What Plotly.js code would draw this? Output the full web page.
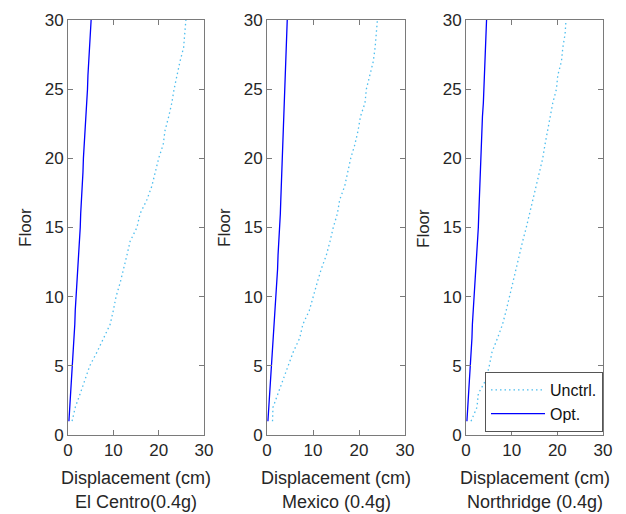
<!DOCTYPE html>
<html>
<head>
<meta charset="utf-8">
<script src="https://cdn.plot.ly/plotly-3.0.1.min.js"></script>
<style>html,body{margin:0;padding:0;background:#fff;}#chart{width:626px;height:514px;}</style>
</head>
<body>
<div id="chart"></div>
<script>
const floors = [1,2,3,4,5,6,7,8,9,10,11,12,13,14,15,16,17,18,19,20,21,22,23,24,25,26,27,28,29,30];

const elCentroUnctrl = [0.9,1.6,2.7,3.8,4.8,6.4,7.8,9.3,10.0,10.6,11.5,12.3,13.0,13.7,15.2,15.9,17.4,18.5,19.2,20.0,21.0,21.4,22.2,22.9,23.4,24.0,24.7,25.5,25.8,26.0];
const elCentroOpt    = [0.2,0.4,0.6,0.7,0.9,1.1,1.3,1.5,1.6,1.8,2.0,2.2,2.4,2.5,2.7,2.8,3.0,3.1,3.3,3.4,3.6,3.8,3.9,4.1,4.3,4.4,4.6,4.8,4.9,5.1];

const mexicoUnctrl = [1.2,1.3,2.4,3.5,4.7,5.7,7.1,7.8,9.2,10.0,10.9,11.8,12.9,13.7,14.4,15.3,15.8,16.9,17.6,18.2,19.1,19.8,20.3,21.3,21.6,22.4,23.1,23.5,23.8,24.0];
const mexicoOpt    = [0.2,0.4,0.5,0.7,0.9,1.1,1.3,1.5,1.7,1.9,2.1,2.3,2.4,2.6,2.8,2.9,3.0,3.1,3.2,3.3,3.4,3.5,3.6,3.7,3.8,3.9,4.0,4.1,4.3,4.4];

const northUnctrl = [1.1,2.4,2.7,4.4,5.1,5.7,6.9,8.0,8.8,9.5,10.2,11.0,11.7,12.4,13.2,13.9,14.6,15.4,16.1,16.8,17.3,17.9,18.5,19.0,19.8,20.1,20.9,21.2,21.7,21.9];
const northOpt    = [0.2,0.4,0.5,0.7,0.9,1.1,1.3,1.4,1.6,1.8,2.0,2.2,2.4,2.5,2.7,2.8,2.9,3.0,3.2,3.3,3.4,3.5,3.6,3.8,3.9,4.0,4.1,4.2,4.4,4.5];

const xTicks = [0,10,20,30];
const yTicks = [0,5,10,15,20,25,30];
const seriesNames = ['Unctrl.','Opt.'];
const panelTitles = ['El Centro(0.4g)','Mexico (0.4g)','Northridge (0.4g)'];
const xTitle = 'Displacement (cm)';
const yTitle = 'Floor';

const panels = [
  {u: elCentroUnctrl, o: elCentroOpt},
  {u: mexicoUnctrl, o: mexicoOpt},
  {u: northUnctrl, o: northOpt}
];

const W = 626, H = 514;
const xDomPx = [[68,204],[267,405],[466,603]];
const yTopPx = 20, yBotPx = 435;
const font = 'Liberation Sans, Arial, sans-serif';
const txtColor = '#262626';
const axColor = '#7a7a7a';

const traces = [];
const layout = {
  width: W, height: H,
  margin: {l:0, r:0, t:0, b:0},
  paper_bgcolor: '#fff', plot_bgcolor: '#fff',
  font: {family: font, size: 17, color: txtColor},
  showlegend: true,
  legend: {
    x: 603/W, xanchor: 'right', y: 1 - 432/H, yanchor: 'bottom',
    bgcolor: '#fff', bordercolor: '#555', borderwidth: 1,
    font: {family: font, size: 16, color: '#111'},
    itemwidth: 54, tracegroupgap: 0
  },
  annotations: []
};

panels.forEach((p, i) => {
  const xa = i === 0 ? 'x' : 'x' + (i+1);
  const ya = i === 0 ? 'y' : 'y' + (i+1);
  traces.push({
    x: p.u, y: floors, xaxis: xa, yaxis: ya, type: 'scatter', mode: 'lines',
    name: seriesNames[0], showlegend: i === 2,
    line: {color: '#4dbeee', width: 1.3, dash: '1.5px,3px'}
  });
  traces.push({
    x: p.o, y: floors, xaxis: xa, yaxis: ya, type: 'scatter', mode: 'lines',
    name: seriesNames[1], showlegend: i === 2,
    line: {color: '#0000ff', width: 1.3}
  });
  const xKey = i === 0 ? 'xaxis' : 'xaxis' + (i+1);
  const yKey = i === 0 ? 'yaxis' : 'yaxis' + (i+1);
  const common = {
    showgrid: false, zeroline: false, showline: true, mirror: 'ticks',
    linecolor: axColor, linewidth: 1, ticks: 'inside', ticklen: 5,
    tickcolor: axColor, tickwidth: 1, range: [0,30], fixedrange: true,
    tickfont: {family: font, size: 17, color: txtColor}
  };
  layout[xKey] = Object.assign({}, common, {
    domain: [xDomPx[i][0]/W, xDomPx[i][1]/W],
    anchor: ya, tickvals: xTicks, ticktext: xTicks.map(String)
  });
  layout[yKey] = Object.assign({}, common, {
    domain: [1 - yBotPx/H, 1 - yTopPx/H],
    anchor: xa, tickvals: yTicks, ticktext: yTicks.map(String)
  });
  const cx = (xDomPx[i][0] + xDomPx[i][1]) / 2;
  layout.annotations.push({
    xref: 'paper', yref: 'paper', x: cx/W, y: 1 - 478/H,
    text: xTitle, showarrow: false, xanchor: 'center', yanchor: 'middle',
    font: {family: font, size: 18, color: txtColor}
  });
  layout.annotations.push({
    xref: 'paper', yref: 'paper', x: cx/W, y: 1 - 502/H,
    text: panelTitles[i], showarrow: false, xanchor: 'center', yanchor: 'middle',
    font: {family: font, size: 18, color: txtColor}
  });
  layout.annotations.push({
    xref: 'paper', yref: 'paper', x: (xDomPx[i][0] - 43)/W, y: 1 - 228/H,
    text: yTitle, showarrow: false, textangle: -90, xanchor: 'center', yanchor: 'middle',
    font: {family: font, size: 17, color: txtColor}
  });
});

Plotly.newPlot('chart', traces, layout, {displayModeBar: false, staticPlot: true});
</script>
</body>
</html>
